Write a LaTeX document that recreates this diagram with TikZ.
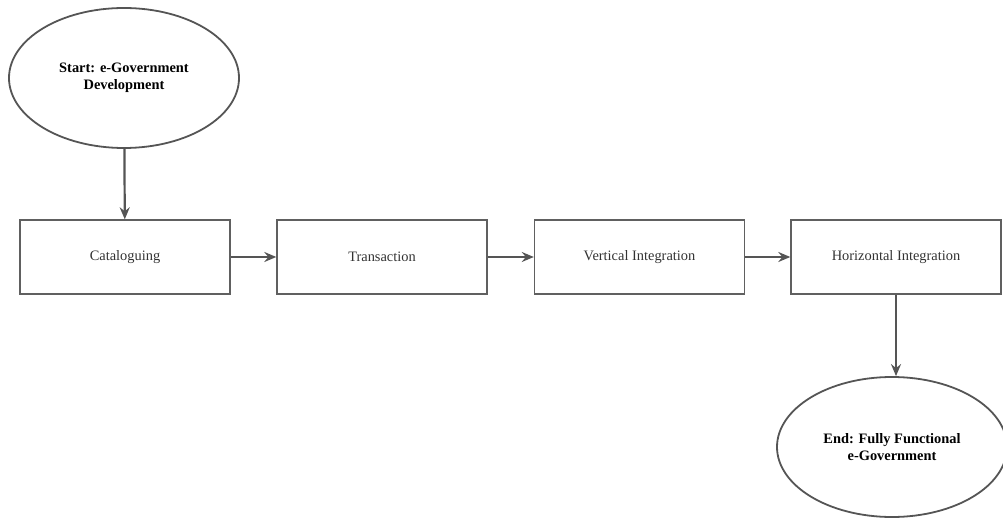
\documentclass[tikz,border=0pt]{standalone}
\usepackage{fontspec}
\setmainfont{Liberation Serif}
\usetikzlibrary{shapes.geometric,arrows.meta}

\definecolor{edgegray}{HTML}{555555}
\definecolor{boxgray}{HTML}{606060}
\definecolor{textgray}{HTML}{333333}

\tikzset{
  stage/.style={draw=boxgray, line width=1.4pt, minimum width=210pt, minimum height=74pt,
    inner sep=0pt, text=textgray, font=\fontsize{14.4}{16}\selectfont},
  terminal/.style={ellipse, draw=edgegray, line width=1.8pt, minimum width=230pt, minimum height=140pt,
    inner sep=0pt, align=center, font=\fontsize{14.4}{16.5}\selectfont\bfseries},
  flow/.style={-{Stealth[length=12pt,width=10pt,inset=4pt]}, draw=edgegray, line width=2.2pt},
}

\begin{document}
\begin{tikzpicture}[x=1pt, y=-1pt]
	\useasboundingbox (0, 0) rectangle (1003, 518);
	\node [terminal] (start) at (124, 78) {Start: e-Government\\Development};
	\node [stage] (cat) at (125, 257) {Cataloguing};
	\node [stage] (trans) at (382, 257) {Transaction};
	\node [stage] (vert) at (639.5, 257) {Vertical Integration};
	\node [stage] (horiz) at (896, 257) {Horizontal Integration};
	\node [terminal] (end) at (892, 447) {End: Fully Functional\\e-Government};
	\draw [flow] (start) -- (cat);
	\draw [flow] (cat) -- (trans);
	\draw [flow] (trans) -- (vert);
	\draw [flow] (vert) -- (horiz);
	\draw [flow] (horiz) -- (horiz |- end.north);
\end{tikzpicture}
\end{document}
